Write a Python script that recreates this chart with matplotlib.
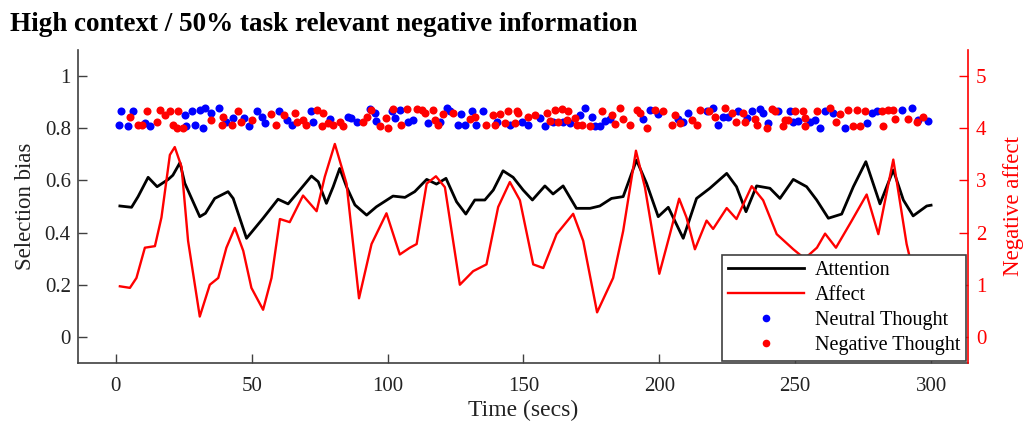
import numpy as np
import matplotlib
matplotlib.use("Agg")
import matplotlib.pyplot as plt
from matplotlib.lines import Line2D

plt.rcParams["font.family"] = ["Liberation Serif", "DejaVu Serif"]

# Attention (selection bias, left axis)
att_t = [1.5, 5.8, 8.2, 11.9, 15.2, 19.3, 21, 23.6, 25.4, 30.9, 33, 36.4, 41.3, 43.2,
         48.1, 54.2, 59.7, 63.4, 67.7, 72, 74.5, 77.5, 80, 82.4, 84.9, 88, 92.3, 95.9,
         102, 106.4, 110, 114.4, 118, 121.5, 125.4, 128.8, 132.1, 135.8, 138.9, 142.5,
         146.2, 149.9, 153.3, 157.9, 160.9, 164.6, 169.5, 174.5, 178.1, 182.4, 186.7,
         191.6, 195.3, 199.6, 203.3, 208.8, 213.7, 218.6, 224.8, 228.4, 231.9, 235.8,
         240.7, 244.4, 249.3, 254.2, 257.9, 262.2, 267.1, 271.4, 276, 281.2, 286.1,
         289.8, 293.4, 298.4, 300]
att_v = [0.502, 0.497, 0.538, 0.612, 0.576, 0.604, 0.62, 0.668, 0.589, 0.461, 0.474,
         0.531, 0.557, 0.531, 0.378, 0.455, 0.528, 0.51, 0.563, 0.617, 0.595, 0.512,
         0.576, 0.646, 0.576, 0.506, 0.467, 0.499, 0.54, 0.535, 0.557, 0.604, 0.586,
         0.608, 0.518, 0.471, 0.525, 0.525, 0.563, 0.637, 0.612, 0.563, 0.525, 0.579,
         0.548, 0.579, 0.493, 0.493, 0.502, 0.531, 0.538, 0.678, 0.589, 0.461, 0.497,
         0.378, 0.531, 0.57, 0.627, 0.576, 0.48, 0.579, 0.57, 0.531, 0.604, 0.576,
         0.525, 0.455, 0.471, 0.576, 0.672, 0.51, 0.64, 0.525, 0.464, 0.502, 0.505]

# Affect (negative affect, right axis)
aff_t = [1.5, 5.2, 7.6, 10.7, 14.4, 16.8, 19.9, 21.7, 24.2, 26.6, 30.9, 34.6, 37.7,
         40.7, 43.8, 46.9, 49.9, 54.2, 57.3, 60.4, 64, 68.9, 73.9, 76.9, 80.6, 84.9,
         89.5, 94.1, 99.6, 104.5, 108.2, 110.7, 114.4, 117.8, 121.1, 126.6, 131.5,
         136.4, 140.7, 145, 148.7, 153.6, 157.3, 162.2, 168.3, 172, 177.1, 183, 186.7,
         191.4, 194.7, 200, 203.9, 207.3, 210, 213.1, 217.4, 219.8, 224.8, 228.4, 234,
         238.2, 243.2, 249.3, 253.5, 258, 261, 265, 270.5, 276.3, 280.6, 286.1, 291,
         295, 300]
aff_v = [0.97, 0.94, 1.13, 1.71, 1.74, 2.29, 3.49, 3.64, 3.26, 1.84, 0.39, 1.0, 1.13,
         1.71, 2.09, 1.65, 0.94, 0.52, 1.13, 2.26, 2.2, 2.71, 2.41, 3.07, 3.70, 2.94,
         0.74, 1.78, 2.37, 1.58, 1.71, 1.78, 2.94, 3.08, 2.87, 1.0, 1.26, 1.39, 2.49,
         2.97, 2.62, 1.39, 1.32, 1.97, 2.36, 1.84, 0.47, 1.13, 2.03, 3.57, 2.87, 1.21,
         1.97, 2.65, 2.29, 1.68, 2.23, 2.07, 2.47, 2.26, 2.89, 2.62, 1.97, 1.68, 1.5,
         1.71, 1.98, 1.71, 2.2, 2.73, 1.97, 3.40, 1.78, 0.9, 0.8]

# Thought probes (left axis)
neu_t = [1.2, 1.9, 4.6, 6.4, 10.7, 12.6, 25.4, 26, 28, 29, 31, 32, 33, 35, 38, 40.5,
         43, 47, 49, 52, 53.7, 55, 60, 63, 65, 72, 72.7, 78.8, 85.5, 86.7, 88.6, 93.5,
         95.3, 95.9, 101.5, 102.7, 104.5, 107.6, 109.4, 115, 119.3, 121.7, 123, 126,
         127.2, 128.5, 131, 132.7, 135.2, 140.1, 145, 149.4, 151.8, 156.1, 157.9, 161,
         164.7, 167.1, 170.8, 172.7, 175.1, 176.3, 178.2, 180, 181.9, 194.1, 196.6,
         199.7, 207, 208.9, 210.7, 217.5, 219.9, 221.7, 223.6, 225.4, 229, 232.1, 234,
         237, 238.3, 240.1, 243.8, 248.1, 249.3, 251.1, 255.4, 257.3, 259.1, 261, 264,
         268.3, 276.3, 278.1, 280, 289.2, 292.8, 295.3, 299]
neu_v = [0.813, 0.865, 0.807, 0.865, 0.82, 0.807, 0.852, 0.807, 0.865, 0.813, 0.87,
         0.801, 0.877, 0.858, 0.877, 0.826, 0.839, 0.839, 0.807, 0.865, 0.845, 0.82,
         0.865, 0.83, 0.813, 0.865, 0.826, 0.836, 0.845, 0.84, 0.826, 0.875, 0.86,
         0.828, 0.865, 0.84, 0.87, 0.826, 0.832, 0.82, 0.826, 0.877, 0.867, 0.813,
         0.855, 0.813, 0.865, 0.813, 0.867, 0.826, 0.813, 0.826, 0.813, 0.84, 0.807,
         0.826, 0.826, 0.82, 0.85, 0.877, 0.845, 0.807, 0.807, 0.828, 0.836, 0.836,
         0.87, 0.855, 0.836, 0.826, 0.86, 0.865, 0.877, 0.813, 0.845, 0.845, 0.865,
         0.84, 0.865, 0.875, 0.86, 0.82, 0.865, 0.865, 0.826, 0.828, 0.826, 0.832,
         0.803, 0.865, 0.86, 0.803, 0.82, 0.86, 0.865, 0.87, 0.877, 0.832, 0.828]
neg_t = [5.2, 8.3, 9.5, 11.3, 15, 16.2, 18, 20, 21, 22.4, 23, 24.8, 35, 39, 39.6, 42.6,
         45, 46, 50, 57, 59, 62, 66, 66.5, 69, 70, 73.9, 75.7, 76.3, 78.1, 80, 82.4,
         83.7, 91, 92.3, 94, 97.2, 99.6, 100.2, 102, 105.1, 107, 110.7, 112.5, 113.7,
         116.8, 117.4, 118.6, 120.5, 124.2, 130.3, 132.1, 136.4, 138.9, 139.5, 141.3,
         143.2, 144.4, 146.9, 147.5, 148.1, 151.8, 154.3, 158.6, 159.8, 161.6, 162.9,
         164.1, 165.9, 166.5, 169, 169.6, 171.4, 174.5, 178.8, 182.5, 183.7, 185.6,
         186.8, 189.2, 191.7, 192.9, 195.4, 198.4, 201.5, 204.6, 205.8, 207.6, 211.9,
         213.8, 215, 218.1, 220.5, 224.1, 226.6, 228.4, 230.9, 231.5, 235.2, 235.8,
         239.5, 241.3, 242.5, 245.6, 246.2, 247.5, 249.9, 253, 253.6, 253.6, 257.9,
         262.8, 265.2, 266.5, 269.5, 271.4, 272.6, 273.8, 275.7, 281.8, 282.4, 284.3,
         286.1, 286.7, 291.6, 294.7, 297.1]
neg_v = [0.845, 0.813, 0.813, 0.865, 0.826, 0.87, 0.852, 0.865, 0.813, 0.801, 0.865,
         0.801, 0.83, 0.813, 0.845, 0.813, 0.865, 0.826, 0.83, 0.855, 0.813, 0.852,
         0.858, 0.826, 0.83, 0.813, 0.87, 0.807, 0.86, 0.82, 0.813, 0.826, 0.807,
         0.826, 0.845, 0.87, 0.81, 0.84, 0.803, 0.875, 0.813, 0.875, 0.875, 0.87,
         0.86, 0.87, 0.832, 0.813, 0.855, 0.86, 0.836, 0.845, 0.813, 0.852, 0.813,
         0.855, 0.82, 0.865, 0.82, 0.867, 0.86, 0.845, 0.852, 0.86, 0.828, 0.87,
         0.826, 0.875, 0.832, 0.867, 0.84, 0.813, 0.813, 0.81, 0.865, 0.852, 0.815,
         0.877, 0.836, 0.813, 0.87, 0.86, 0.801, 0.87, 0.865, 0.813, 0.852, 0.82,
         0.832, 0.813, 0.87, 0.865, 0.845, 0.877, 0.86, 0.826, 0.86, 0.826, 0.836,
         0.813, 0.803, 0.875, 0.865, 0.81, 0.832, 0.832, 0.865, 0.865, 0.84, 0.807,
         0.865, 0.877, 0.826, 0.855, 0.87, 0.807, 0.87, 0.807, 0.865, 0.867, 0.81,
         0.87, 0.87, 0.836, 0.836, 0.826, 0.845]

fig = plt.figure(figsize=(10.23, 4.28), dpi=100)
ax = fig.add_axes([0.076, 0.152, 0.87, 0.731])
ax2 = ax.twinx()

ax.plot(neu_t, neu_v, "o", color="#0000ff", ms=5.8, mec="none", zorder=3)
ax.plot(neg_t, neg_v, "o", color="#ff0000", ms=5.8, mec="none", zorder=3)
ax.plot(att_t, att_v, color="black", lw=2.0, zorder=2)
ax2.plot(aff_t, aff_v, color="#ff0000", lw=1.7)

ax.set_xlim(-14, 313.5)
ax.set_ylim(-0.1, 1.1)
ax2.set_ylim(-0.5, 5.5)
ax.set_xticks([0, 50, 100, 150, 200, 250, 300])
ax.set_yticks([0, 0.2, 0.4, 0.6, 0.8, 1])
ax.set_yticklabels(["0", "0.2", "0.4", "0.6", "0.8", "1"])
ax2.set_yticks([0, 1, 2, 3, 4, 5])

gray = "#404040"
for a in (ax, ax2):
    a.spines["top"].set_visible(False)
    a.set_facecolor("none")
ax.spines["right"].set_visible(False)
ax.spines["left"].set_color(gray)
ax.spines["bottom"].set_color(gray)
ax.spines["left"].set_linewidth(1.2)
ax.spines["bottom"].set_linewidth(1.2)
ax2.spines["left"].set_visible(False)
ax2.spines["bottom"].set_visible(False)
ax2.spines["right"].set_color("#ff0000")
ax2.spines["right"].set_linewidth(1.2)

ax.tick_params(direction="in", length=6.5, width=1, color=gray, labelsize=15,
               labelcolor="#222222")
ax.tick_params(axis="y", pad=5)
ax.tick_params(axis="x", pad=10)
ax2.tick_params(direction="in", length=6.5, width=1, color="#ff0000", labelsize=15,
                labelcolor="#ff0000", pad=6)

ax.set_xlabel("Time (secs)", fontsize=17, color="#222222", labelpad=3)
ax.set_ylabel("Selection bias", fontsize=16.5, color="#222222", labelpad=6)
ax2.set_ylabel("Negative affect", fontsize=16.5, color="#ff0000", labelpad=12)

fig.text(0.01, 0.928, "High context / 50% task relevant negative information",
         fontsize=19.5, fontweight="bold", va="baseline", ha="left")

handles = [
    Line2D([], [], color="black", lw=2.0),
    Line2D([], [], color="#ff0000", lw=1.7),
    Line2D([], [], ls="none", marker="o", color="#0000ff", ms=5.5, mec="none"),
    Line2D([], [], ls="none", marker="o", color="#ff0000", ms=5.5, mec="none"),
]
labels = ["Attention", "Affect", "Neutral Thought", "Negative Thought"]
leg = ax2.legend(handles, labels, loc="lower right", bbox_to_anchor=(0.998, 0.005),
                 fontsize=14.5, frameon=True, fancybox=False, framealpha=1,
                 edgecolor=gray, handlelength=3.8, labelspacing=0.3,
                 borderpad=0.3, handletextpad=0.5, borderaxespad=0)
leg.get_frame().set_linewidth(1.2)

fig.savefig("out.png", dpi=100)
